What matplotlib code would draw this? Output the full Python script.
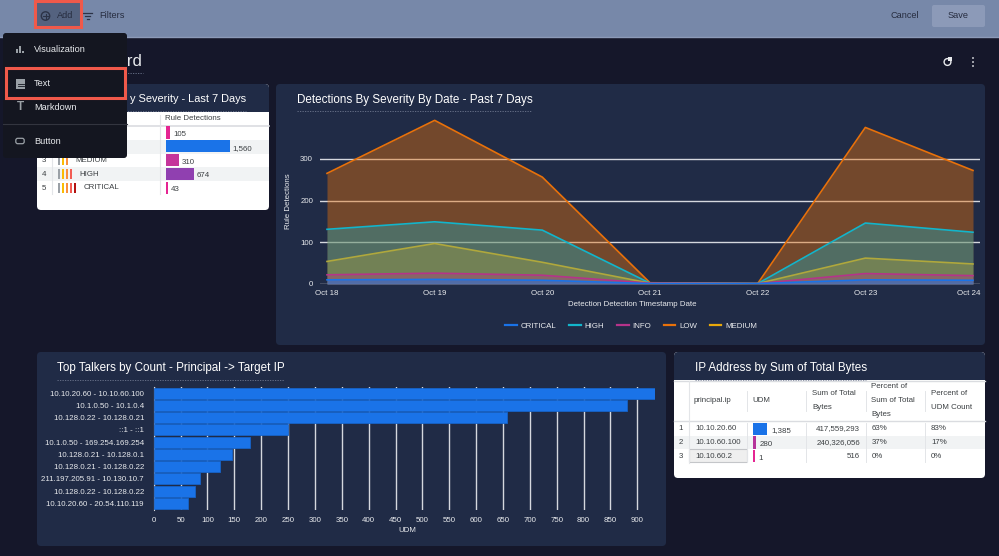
import matplotlib
matplotlib.use('Agg')
import matplotlib.pyplot as plt
from matplotlib.patches import FancyBboxPatch, Rectangle, Circle
from matplotlib.transforms import ScaledTranslation

plt.rcParams['font.family'] = ['Liberation Sans', 'DejaVu Sans']

# ---- data ----
dates = ['Oct 18', 'Oct 19', 'Oct 20', 'Oct 21', 'Oct 22', 'Oct 23', 'Oct 24']
low = [265, 392, 256, 3, 1, 375, 272]
high = [131, 149, 129, 2, 1, 146, 124]
medium = [54, 97, 52, 2, 1, 62, 48]
info = [22, 26, 21, 2, 1, 25, 20]
critical = [10, 11, 9, 1, 1, 10, 9]

talkers = ['10.10.20.60 - 10.10.60.100', '10.1.0.50 - 10.1.0.4', '10.128.0.22 - 10.128.0.21',
           '::1 - ::1', '10.1.0.50 - 169.254.169.254', '10.128.0.21 - 10.128.0.1',
           '10.128.0.21 - 10.128.0.22', '211.197.205.91 - 10.130.10.7',
           '10.128.0.22 - 10.128.0.22', '10.10.20.60 - 20.54.110.119']
talker_counts = [932, 880, 658, 250, 180, 145, 123, 87, 77, 63]

severity_names = ['INFO', 'LOW', 'MEDIUM', 'HIGH', 'CRITICAL']
rule_detections = [105, 1560, 310, 674, 43]
rule_colors = ['#e52592', '#1a73e8', '#c5349b', '#9040b0', '#e52592']

ips = ['10.10.20.60', '10.10.60.100', '10.10.60.2']
udm = [1385, 280, 1]
udm_colors = ['#1a73e8', '#b5339a', '#e52592']
bytes_sum = ['417,559,293', '240,326,056', '516']
pct_bytes = ['63%', '37%', '0%']
pct_udm = ['83%', '17%', '0%']

W, H = 999, 556
BG = '#15172a'
NAVY = '#202b46'
TXT = '#e8eaed'
TBL = '#3c4043'
FS = 5.7


def pax(x0, y0, x1, y1, **kw):
    return fig.add_axes([x0 / W, 1 - y1 / H, (x1 - x0) / W, (y1 - y0) / H], **kw)


fig = plt.figure(figsize=(W / 100, H / 100), dpi=100, facecolor=BG)
ui = fig.add_axes([0, 0, 1, 1], zorder=0)
ui.set_xlim(0, W)
ui.set_ylim(H, 0)
ui.axis('off')
top = fig.add_axes([0, 0, 1, 1], zorder=5)
top.set_xlim(0, W)
top.set_ylim(H, 0)
top.axis('off')
top.patch.set_alpha(0)


def rbox(a, x0, y0, x1, y1, color, r=4, **kw):
    a.add_patch(FancyBboxPatch((x0 + r, y0 + r), x1 - x0 - 2 * r, y1 - y0 - 2 * r,
                               boxstyle=f'round,pad={r},rounding_size={r}', fc=color, ec='none', **kw))


def dotted(a, x0, x1, y, color='#6f7890'):
    a.plot([x0, x1], [y, y], color=color, lw=0.6, ls=(0, (1.5, 1.5)))


# top bar
ui.add_patch(Rectangle((0, 0), W, 37, fc='#7788a9', ec='none'))
ui.plot([0, W], [36.5, 36.5], color='#8c9ab8', lw=1)
ui.add_patch(Rectangle((36, 2), 44, 24, fc='#54627f', ec='none'))
ui.add_patch(Circle((45.5, 16), 4.2, fc='none', ec='#2c3347', lw=1))
ui.plot([43, 48], [16, 16], color='#2c3347', lw=0.8)
ui.plot([45.5, 45.5], [13.5, 18.5], color='#2c3347', lw=0.8)
ui.text(57, 16, 'Add', fontsize=6.6, color='#262c3f', va='center')
for yy, a0, a1 in [(13, 83, 92), (16, 85, 90), (19, 86.5, 88.5)]:
    ui.plot([a0, a1], [yy, yy], color='#2c3347', lw=0.9)
ui.text(99, 16, 'Filters', fontsize=6.6, color='#262c3f', va='center')
ui.text(904.5, 16, 'Cancel', fontsize=6.6, color='#262c3f', va='center', ha='center')
rbox(ui, 932, 5, 985, 27, '#8c9ab8', r=2)
ui.text(958, 16, 'Save', fontsize=6.6, color='#262c3f', va='center', ha='center')

# dashboard title and actions
ui.text(142.5, 61, 'Dashboard', fontsize=12, color=TXT, va='center', ha='right')
dotted(ui, 45, 143, 73)
ui.add_patch(Circle((947.5, 62), 3.4, fc='none', ec='#e8eaed', lw=1))
ui.add_patch(Rectangle((948, 56.5), 4, 4, fc='#e8eaed', ec='none'))
for yy in [58, 62, 66]:
    ui.add_patch(Circle((973, yy), 0.9, fc='#e8eaed', ec='none'))

# panels
rbox(ui, 37, 84, 269, 210, '#ffffff')
rbox(ui, 37, 84, 269, 112, NAVY)
ui.add_patch(Rectangle((37, 100), 232, 12, fc=NAVY, ec='none'))
rbox(ui, 276, 84, 985, 345, NAVY)
rbox(ui, 37, 352, 666, 546, NAVY)
rbox(ui, 674, 352, 985, 478, '#ffffff')
rbox(ui, 674, 352, 985, 380, NAVY)
ui.add_patch(Rectangle((674, 368), 311, 12, fc=NAVY, ec='none'))

TF = 8.4
# the start of this title is covered by the open menu in the reference
ui.text(246, 99.5, 'y Severity - Last 7 Days', fontsize=7.9, color='white', va='center', ha='right')
dotted(ui, 50, 246, 110.5)
ui.text(297, 100, 'Detections By Severity By Date - Past 7 Days', fontsize=TF, color='white', va='center')
dotted(ui, 297, 531, 111)
ui.text(57, 368, 'Top Talkers by Count - Principal -> Target IP', fontsize=TF, color='white', va='center')
dotted(ui, 57, 284, 379.5)
ui.text(695, 367.5, 'IP Address by Sum of Total Bytes', fontsize=TF, color='white', va='center')
dotted(ui, 695, 866, 379.5)

# table 1
row_y = [133, 147, 160, 174, 187.5]
for yy in (row_y[1], row_y[3]):
    ui.add_patch(Rectangle((37, yy - 6.8), 232, 13.6, fc='#f1f3f4', ec='none'))
ui.plot([37, 269], [125.5, 125.5], color='#dadce0', lw=1.2)
ui.plot([159.5, 159.5], [115, 194], color='#e3e5e8', lw=0.8)
ui.plot([51.5, 51.5], [115, 194], color='#e3e5e8', lw=0.8)
ui.text(165, 118.5, 'Rule Detections', fontsize=FS, color=TBL, va='center')
sev_bars = ['#9aa0a6', '#fbbc04', '#fa903e', '#f25c54', '#b31412']
for i, (yy, name, val) in enumerate(zip(row_y, severity_names, rule_detections)):
    ui.text(44, yy + 0.5, str(i + 1), fontsize=FS, color=TBL, va='center', ha='center')
    n = i + 1
    for k in range(n):
        ui.add_patch(Rectangle((58 + k * 4.1, yy - 5), 1.9, 10, fc=sev_bars[k], ec='none'))
    ui.text(59 + n * 4.1 + 4, yy, name, fontsize=FS, color=TBL, va='center')
bar1 = pax(166, 126, 230, 195, zorder=2)
bar1.patch.set_alpha(0)
bar1.axis('off')
bar1.barh(range(5), rule_detections, height=0.88, color=rule_colors)
bar1.set_xlim(0, 1560)
bar1.set_ylim(4.5 + 0.03, -0.5 + 0.03)
for i, val in enumerate(rule_detections):
    bar1.annotate(f'{val:,}', (val, i), xytext=(2, -1.5), textcoords='offset points',
                  fontsize=FS, color=TBL, va='center', annotation_clip=False)

# dropdown menu
rbox(top, 3, 33, 127, 158, '#141620', r=3)
top.plot([3, 127], [124, 124], color='#33353f', lw=0.8)
for name, yy in [('Visualization', 49.5), ('Text', 84), ('Markdown', 107), ('Button', 141)]:
    top.text(34, yy, name, fontsize=6.6, color='#e8eaed', va='center')
for xx, h in [(17, 4), (20, 7), (23, 2.5)]:
    top.add_patch(Rectangle((xx - 1, 53 - h), 1.8, h, fc='#9aa0a6', ec='none'))
top.add_patch(Rectangle((16, 79), 9, 10, fc='#9aa0a6', ec='none'))
top.plot([17.5, 23.5], [84, 84], color='#141620', lw=0.6)
top.plot([17.5, 23.5], [86, 86], color='#141620', lw=0.6)
top.text(20, 107, 'T', fontsize=8.5, color='#9aa0a6', va='center', ha='center', fontweight='bold')
top.add_patch(FancyBboxPatch((17, 139.5), 6, 3, boxstyle='round,pad=1.2,rounding_size=2', fc='none', ec='#9aa0a6', lw=0.9))
# red highlights
top.add_patch(Rectangle((35, 1), 46, 26, fc='none', ec='#f0594a', lw=2.2))
top.add_patch(Rectangle((5.5, 68), 119, 29.5, fc='none', ec='#f0594a', lw=2.2))

# area chart
ax = pax(320, 112, 980, 284, zorder=1)
ax.patch.set_alpha(0)
xs = list(range(len(dates)))
series = [('CRITICAL', critical, '#1a73e8'), ('HIGH', high, '#12b5cb'), ('INFO', info, '#b5338a'),
          ('LOW', low, '#e8710a'), ('MEDIUM', medium, '#b0a83c')]
handles = {}
order = ['LOW', 'HIGH', 'MEDIUM', 'INFO', 'CRITICAL']
lookup = {s[0]: s for s in series}
alphas = {'LOW': 0.42, 'HIGH': 0.35, 'MEDIUM': 0.35, 'INFO': 0.35, 'CRITICAL': 0.5}
for name in order:
    _, vals, col = lookup[name]
    ax.fill_between(xs, vals, 0, color=col, alpha=alphas[name], lw=0, zorder=3)
    handles[name], = ax.plot(xs, vals, color=col, lw=1.2, label=name, zorder=4)
ax.set_xlim(-0.065, 6.065)
ax.set_ylim(0, 412)
ax.set_yticks([0, 100, 200, 300])
ax.set_xticks(xs, dates)
ax.grid(axis='y', color='#d5d8de', lw=1, zorder=1)
ax.set_axisbelow(True)
ax.tick_params(length=0, labelsize=FS, labelcolor=TXT, pad=5)
ax.tick_params(axis='x', pad=4)
for s in ax.spines.values():
    s.set_visible(False)
last = ax.get_xticklabels()[-1]
last.set_ha('right')
last.set_transform(last.get_transform() + ScaledTranslation(7 / 100, 0, fig.dpi_scale_trans))
ui.text(632, 305, 'Detection Detection Timestamp Date', fontsize=FS, color=TXT, ha='center', va='center')
ui.text(288, 201, 'Rule Detections', fontsize=FS, color=TXT, ha='center', va='center', rotation=90)
leg_handles = [handles[k] for k in ['CRITICAL', 'HIGH', 'INFO', 'LOW', 'MEDIUM']]
leg = ax.legend(leg_handles, ['CRITICAL', 'HIGH', 'INFO', 'LOW', 'MEDIUM'], ncol=5, frameon=False,
                loc='center', bbox_to_anchor=(631 / W, 1 - 326 / H), bbox_transform=fig.transFigure,
                fontsize=FS, labelcolor=TXT, handlelength=1.5, handletextpad=0.45, columnspacing=1.6)
for lh, c in zip(leg.get_lines(), ['#1a73e8', '#12b5cb', '#b5338a', '#e8710a', '#e8a80a']):
    lh.set_color(c)
    lh.set_linewidth(1.6)

# horizontal bars
bx = pax(153.7, 387, 654.5, 510, zorder=1)
bx.patch.set_alpha(0)
bx.barh(talkers, talker_counts, height=0.9, color='#1a73e8', edgecolor='#1763c8', lw=0.6, zorder=3)
bx.set_xlim(0, 932)
bx.set_ylim(9.55, -0.5)
bx.set_xticks(range(0, 901, 50))
bx.grid(axis='x', color='#d5d8de', lw=1, zorder=0)
bx.set_axisbelow(True)
bx.tick_params(length=0, labelsize=FS, labelcolor=TXT)
bx.tick_params(axis='x', pad=5)
bx.tick_params(axis='y', pad=7)
for s in bx.spines.values():
    s.set_visible(False)
bx.spines['left'].set_visible(True)
bx.spines['left'].set_color('#d5d8de')
bx.spines['left'].set_linewidth(0.8)
ui.text(407, 531, 'UDM', fontsize=FS, color=TXT, ha='center', va='center')

# table 2
hdr_line = 421
ui.plot([674, 985], [hdr_line, hdr_line], color='#dadce0', lw=1)
ui.plot([674, 985], [380.5, 380.5], color='#dadce0', lw=1)
for xx in (747, 806, 866, 925):
    ui.plot([xx, xx], [391, 411], color='#e3e5e8', lw=0.7)
ui.plot([689, 689], [381, 463], color='#e3e5e8', lw=0.8)
for xx in (747, 806, 866, 925):
    ui.plot([xx, xx], [423, 462], color='#e3e5e8', lw=0.7)
ui.text(694, 400.5, 'principal.ip', fontsize=FS, color=TBL, va='center')
ui.text(752, 400.5, 'UDM', fontsize=FS, color=TBL, va='center')
ui.text(812, 393.5, 'Sum of Total', fontsize=FS, color=TBL, va='center')
ui.text(812, 407.5, 'Bytes', fontsize=FS, color=TBL, va='center')
ui.text(871, 386.5, 'Percent of', fontsize=FS, color=TBL, va='center')
ui.text(871, 400.5, 'Sum of Total', fontsize=FS, color=TBL, va='center')
ui.text(871, 414, 'Bytes', fontsize=FS, color=TBL, va='center')
ui.text(931, 393.5, 'Percent of', fontsize=FS, color=TBL, va='center')
ui.text(931, 407.5, 'UDM Count', fontsize=FS, color=TBL, va='center')
rows2 = [429, 442.5, 456]
ui.add_patch(Rectangle((674, 435.5), 311, 13.5, fc='#f1f3f4', ec='none'))
ui.add_patch(Rectangle((689, 449), 58, 13, fc='#efefef', ec='#c4c6c9', lw=0.8))
for i, yy in enumerate(rows2):
    ui.text(681, yy, str(i + 1), fontsize=FS, color=TBL, va='center', ha='center')
    ui.text(695, yy, ips[i], fontsize=FS, color=TBL, va='center')
    ui.text(860, yy, bytes_sum[i], fontsize=FS, color=TBL, va='center', ha='right')
    ui.text(872, yy, pct_bytes[i], fontsize=FS, color=TBL, va='center')
    ui.text(931, yy, pct_udm[i], fontsize=FS, color=TBL, va='center')
bar2 = pax(753, 422, 767, 463, zorder=2)
bar2.patch.set_alpha(0)
bar2.axis('off')
# very small values keep a visible sliver, as in the source table
drawn = [max(v, max(udm) * 0.11) for v in udm]
bar2.barh(range(3), drawn, height=0.92, color=udm_colors)
bar2.set_xlim(0, 1385)
bar2.set_ylim(2.5, -0.5)
for i, val in enumerate(udm):
    bar2.annotate(f'{val:,}', (drawn[i], i), xytext=(3, -1.5), textcoords='offset points',
                  fontsize=FS, color=TBL, va='center', annotation_clip=False)

fig.savefig('out.png', dpi=100, facecolor=BG)
